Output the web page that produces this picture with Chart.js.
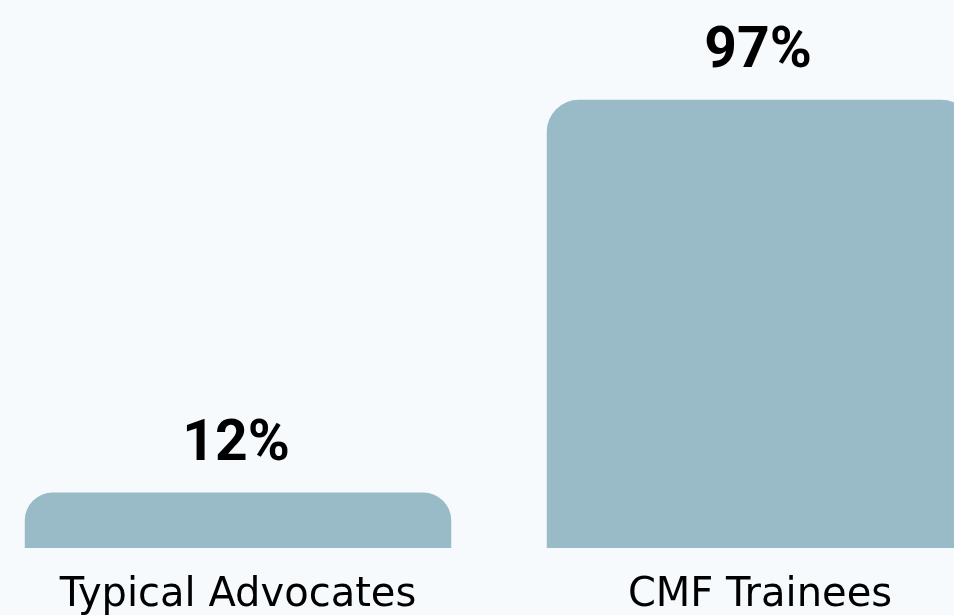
<!DOCTYPE html>
<html>
<head>
<meta charset="utf-8">
<script src="https://cdn.jsdelivr.net/npm/chart.js@4/dist/chart.umd.min.js"></script>
<style>
	html, body { margin: 0; padding: 0; background: #f6fafd; overflow: hidden; width: 954px; height: 615px; }
	#wrap { position: absolute; left: -23px; top: 0; width: 1044px; height: 660px; }
</style>
</head>
<body>
<div id="wrap"><canvas id="graficoComparacao"></canvas></div>
<script>
var categorias = ['Typical Advocates', 'CMF Trainees'];
var percentuais = [12, 97];
var sufixo = '%';

// escreve o valor em cima de cada barra
var rotulosValor = {
	id: 'rotulosValor',
	afterDatasetsDraw: function(chart) {
		var ctx = chart.ctx;
		var meta = chart.getDatasetMeta(0);
		ctx.save();
		ctx.font = 'bold 57px Roboto';
		ctx.fillStyle = '#000';
		ctx.textAlign = 'center';
		ctx.textBaseline = 'alphabetic';
		meta.data.forEach(function(barra, i) {
			ctx.fillText(percentuais[i] + sufixo, barra.x - 2, barra.y - 33);
		});
		ctx.restore();
	}
};

var ctx = document.getElementById('graficoComparacao').getContext('2d');
var grafico = new Chart(ctx, {
	type: 'bar',
	data: {
		labels: categorias,
		datasets: [{
			data: percentuais,
			backgroundColor: '#98bbc7',
			borderWidth: 0,
			borderRadius: { topLeft: 32, topRight: 32 },
			borderSkipped: 'bottom',
			categoryPercentage: 1,
			barPercentage: 0.817
		}]
	},
	options: {
		responsive: true,
		maintainAspectRatio: false,
		animation: false,
		layout: { padding: { top: 86, left: 0, right: 0, bottom: 16 } },
		plugins: {
			legend: { display: false },
			tooltip: { enabled: false }
		},
		scales: {
			x: {
				grid: { display: false, drawTicks: false },
				border: { display: false },
				ticks: {
					color: '#000',
					padding: 24,
					font: { family: 'DejaVu Sans', size: 40, lineHeight: 1.2 }
				}
			},
			y: {
				display: false,
				min: 0,
				max: 100
			}
		}
	},
	plugins: [rotulosValor]
});
</script>
</body>
</html>
